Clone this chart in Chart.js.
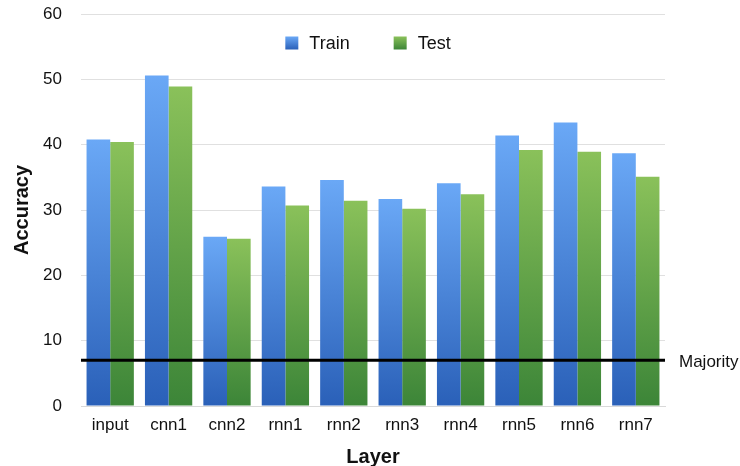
<!DOCTYPE html>
<html>
<head>
<meta charset="utf-8">
<script src="https://cdn.jsdelivr.net/npm/chart.js@4"></script>
<style>
  body { margin: 0; background: #fff; }
  #wrap { width: 740px; height: 466px; }
</style>
</head>
<body>
<div id="wrap"><canvas id="layerChart" width="740" height="466"></canvas></div>
<script>
// 데이터
const layers = ['input', 'cnn1', 'cnn2', 'rnn1', 'rnn2', 'rnn3', 'rnn4', 'rnn5', 'rnn6', 'rnn7'];
const trainAcc = [40.8, 50.6, 25.9, 33.6, 34.6, 31.7, 34.1, 41.4, 43.4, 38.7];
const testAcc = [40.4, 48.9, 25.6, 30.7, 31.4, 30.2, 32.4, 39.2, 38.9, 35.1];
const majority = 7;
const yTicks = [0, 10, 20, 30, 40, 50, 60];

const FONT = '"Liberation Sans", Arial, Helvetica, sans-serif';

// 막대마다 위(밝음) -> 아래(어두움) 그라데이션
function barGradient(top, bottom) {
  return function(context) {
    const chart = context.chart;
    if (!chart.chartArea || context.raw == null) return bottom;
    const y = chart.scales.y;
    const y0 = y.getPixelForValue(context.raw);
    const y1 = y.getPixelForValue(0);
    const g = chart.ctx.createLinearGradient(0, y0, 0, y1);
    g.addColorStop(0, top);
    g.addColorStop(1, bottom);
    return g;
  };
}

const trainColors = ['rgb(106,168,246)', 'rgb(42,96,184)'];
const testColors = ['rgb(138,193,90)', 'rgb(60,133,56)'];

// Majority 선 + 라벨
const majorityLine = {
  id: 'majorityLine',
  afterDatasetsDraw(chart) {
    const ctx = chart.ctx;
    const area = chart.chartArea;
    const yPx = chart.scales.y.getPixelForValue(majority);
    ctx.save();
    ctx.strokeStyle = '#000';
    ctx.lineWidth = 3;
    ctx.beginPath();
    ctx.moveTo(area.left, yPx);
    ctx.lineTo(area.right, yPx);
    ctx.stroke();
    ctx.fillStyle = '#111';
    ctx.font = '17px ' + FONT;
    ctx.textBaseline = 'middle';
    ctx.textAlign = 'left';
    ctx.fillText('Majority', area.right + 14, yPx + 2);
    ctx.restore();
  }
};

// 차트 영역 안쪽 위 범례
const innerLegend = {
  id: 'innerLegend',
  afterDraw(chart) {
    const ctx = chart.ctx;
    const area = chart.chartArea;
    const sets = chart.data.datasets;
    const colors = [trainColors, testColors];
    const box = 13, gapText = 11, gapItem = 44;
    ctx.save();
    ctx.font = '18px ' + FONT;
    let total = 0;
    const widths = sets.map(ds => ctx.measureText(ds.label).width);
    widths.forEach((w, i) => { total += box + gapText + w + (i < widths.length - 1 ? gapItem : 0); });
    let x = (area.left + area.right) / 2 - total / 2 - 5;
    const cy = 43;
    sets.forEach((ds, i) => {
      const g = ctx.createLinearGradient(0, cy - box / 2, 0, cy + box / 2);
      g.addColorStop(0, colors[i][0]);
      g.addColorStop(1, colors[i][1]);
      ctx.fillStyle = g;
      ctx.fillRect(x, cy - box / 2, box, box);
      ctx.fillStyle = '#111';
      ctx.textBaseline = 'middle';
      ctx.textAlign = 'left';
      ctx.fillText(ds.label, x + box + gapText, cy + 1);
      x += box + gapText + widths[i] + gapItem;
    });
    ctx.restore();
  }
};

document.addEventListener('DOMContentLoaded', function() {
  const ctx = document.getElementById('layerChart').getContext('2d');
  new Chart(ctx, {
    type: 'bar',
    data: {
      labels: layers,
      datasets: [{
        label: 'Train',
        data: trainAcc,
        backgroundColor: barGradient(trainColors[0], trainColors[1]),
        borderWidth: 0
      }, {
        label: 'Test',
        data: testAcc,
        backgroundColor: barGradient(testColors[0], testColors[1]),
        borderWidth: 0
      }]
    },
    options: {
      responsive: false,
      animation: false,
      devicePixelRatio: 1,
      layout: {
        padding: { top: 14, right: 75, left: 0, bottom: 0 }
      },
      datasets: {
        bar: { categoryPercentage: 0.81, barPercentage: 1.0 }
      },
      plugins: {
        legend: { display: false },
        tooltip: { enabled: false }
      },
      scales: {
        x: {
          grid: { display: false, drawTicks: false },
          border: { display: true, color: '#d9d9d9', width: 1 },
          ticks: { color: '#111', font: { family: FONT, size: 17 }, padding: 9 },
          title: {
            display: true,
            text: 'Layer',
            color: '#111',
            font: { family: FONT, size: 20, weight: 'bold' },
            padding: { top: 4, bottom: -3 }
          },
          afterFit: function(scale) {
            scale.height = 60;
            scale.paddingLeft = 0;
            scale.paddingRight = 0;
          }
        },
        y: {
          min: 0,
          max: 60,
          afterBuildTicks: function(scale) {
            scale.ticks = yTicks.map(v => ({ value: v }));
          },
          grid: { color: '#e0e0e0', drawTicks: false },
          border: { display: false },
          ticks: { color: '#111', font: { family: FONT, size: 17 }, padding: 19 },
          title: {
            display: true,
            text: 'Accuracy',
            color: '#111',
            font: { family: FONT, size: 20, weight: 'bold' },
            padding: { top: 10, bottom: 0 }
          },
          afterFit: function(scale) {
            scale.width = 81;
            scale.paddingTop = 0;
            scale.paddingBottom = 0;
          }
        }
      }
    },
    plugins: [majorityLine, innerLegend]
  });
});
</script>
</body>
</html>
